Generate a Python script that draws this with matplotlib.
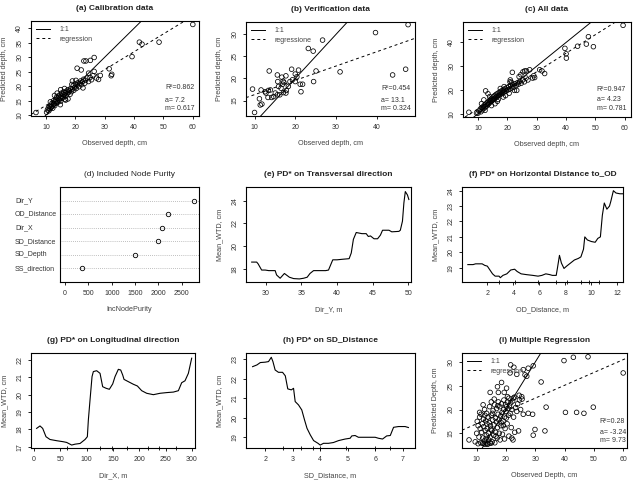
import numpy as np
import matplotlib
matplotlib.use('Agg')
from matplotlib import pyplot as plt

plt.rcParams['font.family'] = ['Liberation Sans', 'DejaVu Sans']

# ---- scatter data (observed, predicted) ----
a_pts = [(10.2, 11.0), (10.5, 11.8), (10.8, 12.5), (11.0, 11.5), (11.2, 12.9), (11.4, 12.2), (11.6, 13.4),
         (11.8, 12.8), (12.0, 13.0), (12.1, 14.2), (12.3, 12.4), (12.5, 13.6), (12.6, 15.0), (12.8, 14.0),
         (13.0, 13.3), (13.1, 14.6), (13.3, 15.5), (13.5, 14.1), (13.6, 16.2), (13.8, 15.0), (14.0, 14.4),
         (14.1, 15.8), (14.3, 16.6), (14.5, 15.2), (14.7, 17.0), (14.8, 16.0), (15.0, 14.8), (15.2, 16.5),
         (15.3, 17.6), (15.5, 15.8), (15.7, 17.2), (15.9, 16.3), (16.0, 18.0), (16.2, 17.0), (16.5, 15.5),
         (16.6, 17.8), (16.8, 16.6), (17.0, 18.3), (17.2, 17.4), (17.5, 18.8), (17.7, 17.9), (18.0, 18.5),
         (18.2, 17.2), (18.4, 19.2), (18.7, 18.1), (19.0, 19.0), (19.3, 20.2), (19.5, 18.6), (19.8, 19.6),
         (20.0, 20.8), (20.3, 19.2), (20.6, 20.3), (20.9, 21.2), (21.2, 19.8), (21.5, 20.9), (21.8, 21.8),
         (22.1, 20.5), (22.4, 21.5), (22.8, 22.4), (23.2, 21.0), (23.5, 22.0), (24.0, 22.8), (24.5, 21.6),
         (25.0, 23.0), (25.5, 22.2), (26.0, 23.6), (13.8, 17.6), (15.0, 18.8), (16.7, 15.2), (17.5, 15.6),
         (60.0, 41.3), (48.5, 35.2), (41.8, 35.2), (42.7, 34.5), (39.3, 30.2), (32.4, 24.1), (31.5, 26.0),
         (26.4, 29.9), (25.1, 28.9), (23.6, 28.7), (22.9, 28.7), (20.6, 26.2), (22.0, 25.6), (24.5, 24.5),
         (26.4, 25.1), (27.2, 22.8), (28.5, 23.7), (6.6, 10.9), (27.9, 22.3), (32.2, 23.6), (19.0, 21.8),
         (11.5, 14.6), (12.9, 16.8), (14.9, 13.6), (16.3, 19.2), (18.8, 20.6), (20.2, 22.0), (22.6, 19.4)]

b_pts = [(47.7, 32.2), (39.7, 30.4), (26.7, 28.7), (23.2, 26.8), (24.4, 26.2), (13.6, 21.7), (19.1, 22.1),
         (20.8, 21.9), (25.1, 21.7), (31.0, 21.5), (47.1, 22.1), (43.9, 20.8), (24.5, 19.3), (9.5, 17.6),
         (11.6, 17.4), (13.4, 17.3), (13.9, 17.4), (15.6, 20.8), (15.7, 19.3), (16.5, 17.8), (17.7, 20.6),
         (17.0, 19.4), (17.2, 19.1), (16.9, 18.7), (20.0, 21.0), (20.0, 19.3), (21.2, 18.7), (21.8, 18.7),
         (21.4, 17.0), (11.2, 15.4), (11.8, 14.2), (11.4, 14.0), (13.3, 15.7), (14.2, 15.7), (14.7, 15.9),
         (15.6, 16.3), (16.2, 16.3), (17.1, 16.8), (17.7, 16.7), (15.9, 18.2), (15.1, 16.7), (12.6, 17.0),
         (12.8, 16.7), (10.0, 12.3), (18.7, 19.3), (18.3, 18.2), (19.3, 19.7), (20.4, 20.4), (16.7, 20.3),
         (17.8, 17.3)]

c_pts = [(9.5, 10.3), (10.0, 10.2), (10.4, 11.2), (10.8, 12.0), (11.0, 10.8), (11.3, 12.6), (11.5, 11.6),
         (11.8, 13.0), (12.0, 12.2), (12.2, 13.6), (12.5, 12.8), (12.7, 14.0), (12.9, 13.2), (13.1, 14.6),
         (13.3, 13.8), (13.5, 15.0), (13.7, 14.2), (13.9, 15.6), (14.1, 14.8), (14.3, 16.0), (14.5, 15.2),
         (14.7, 16.4), (14.9, 15.6), (15.1, 17.0), (15.3, 16.0), (15.5, 17.4), (15.7, 16.4), (15.9, 17.8),
         (16.1, 16.8), (16.3, 18.2), (16.5, 17.2), (16.8, 18.6), (17.0, 17.6), (17.3, 19.0), (17.5, 18.0),
         (17.8, 19.4), (18.0, 18.4), (18.3, 19.8), (18.5, 18.8), (18.8, 20.2), (19.0, 19.2), (19.3, 20.6),
         (19.6, 19.6), (19.9, 21.0), (20.2, 20.0), (20.5, 21.4), (20.8, 20.4), (21.1, 21.8), (21.5, 20.8),
         (21.8, 22.2), (22.2, 21.2), (22.6, 22.6), (23.0, 21.8), (23.4, 23.0), (23.8, 22.4), (24.2, 23.6),
         (24.7, 22.8), (25.2, 24.2), (25.8, 23.4), (26.4, 25.0), (27.0, 24.2), (13.4, 18.4), (12.0, 15.8),
         (11.2, 14.2), (14.6, 13.4), (16.6, 15.2), (18.6, 17.0), (20.6, 18.6), (22.4, 19.8), (24.0, 25.6),
         (21.0, 24.2), (25.3, 27.6), (26.5, 28.0), (28.6, 25.0), (29.3, 25.2), (31.0, 28.5), (31.8, 28.0),
         (32.7, 26.9), (27.6, 28.5), (25.9, 28.0), (21.7, 27.4), (20.9, 23.4), (12.6, 19.6), (6.9, 10.6),
         (59.4, 47.2), (47.6, 42.4), (46.9, 39.3), (49.3, 38.2), (43.9, 38.4), (39.6, 37.5), (40.0, 35.2),
         (40.1, 33.4), (29.0, 26.0), (12.4, 11.4), (14.0, 17.2), (15.8, 14.2), (17.6, 20.6), (19.4, 17.6),
         (21.4, 23.2), (23.2, 19.8), (24.6, 26.4), (16.9, 16.0), (18.9, 21.4)]

i_pts = [(9.5, 13.2), (10.0, 15.0), (10.2, 17.5), (10.5, 12.8), (10.8, 14.2), (11.0, 18.4), (11.2, 16.0),
         (11.4, 13.0), (11.5, 19.0), (11.7, 15.2), (11.9, 17.0), (12.0, 12.9), (12.1, 14.0), (12.3, 18.0),
         (12.4, 16.4), (12.6, 13.4), (12.7, 20.0), (12.9, 15.6), (13.0, 12.7), (13.1, 17.6), (13.3, 14.6),
         (13.4, 19.2), (13.6, 16.0), (13.7, 12.8), (13.9, 18.4), (14.0, 15.0), (14.1, 13.6), (14.3, 17.2),
         (14.4, 20.6), (14.6, 14.2), (14.7, 16.6), (14.9, 12.9), (15.0, 18.8), (15.2, 15.6), (15.3, 13.2),
         (15.5, 17.8), (15.6, 19.8), (15.8, 14.6), (15.9, 16.8), (16.1, 21.0), (16.2, 13.0), (16.4, 18.2),
         (16.5, 15.2), (16.7, 17.4), (16.8, 20.2), (17.0, 14.0), (17.1, 16.2), (17.3, 19.0), (17.4, 21.6),
         (17.6, 17.8), (17.7, 15.0), (17.9, 20.6), (18.0, 13.6), (18.2, 18.6), (18.3, 16.6), (18.5, 21.2),
         (18.7, 19.4), (18.8, 14.8), (19.0, 17.6), (19.2, 20.0), (19.3, 22.0), (19.5, 18.4), (19.7, 16.0),
         (19.8, 21.0), (20.0, 19.6), (20.2, 20.6), (20.4, 17.0), (20.5, 21.6), (20.7, 20.2), (20.9, 18.8),
         (21.0, 22.4), (21.2, 20.8), (21.4, 19.2), (21.6, 21.4), (21.8, 16.2), (22.0, 20.0), (22.3, 21.8),
         (22.6, 18.4), (22.9, 22.6), (23.3, 20.4), (23.7, 19.6), (24.0, 21.2), (24.5, 23.0), (25.0, 20.0),
         (25.5, 22.2), (13.8, 12.7), (14.5, 13.0), (12.5, 12.8), (19.5, 13.8), (21.0, 14.4), (22.0, 14.0),
         (22.4, 13.6), (23.0, 15.2), (24.3, 15.5), (29.3, 14.6), (29.9, 15.8), (33.3, 15.5), (7.4, 13.6),
         (25.9, 19.0), (27.6, 19.2), (29.1, 19.0), (33.7, 20.5), (40.3, 19.4), (44.1, 19.4), (46.6, 19.2),
         (49.8, 20.5), (14.6, 23.6), (17.1, 24.8), (18.5, 25.7), (17.4, 23.6), (19.4, 23.6), (20.2, 24.5),
         (32.0, 25.8), (20.5, 22.7), (22.5, 22.4), (24.6, 22.0), (25.4, 22.7), (21.4, 27.7), (23.7, 27.4),
         (26.5, 27.3), (27.1, 27.0), (21.6, 29.4), (22.7, 28.9), (25.9, 28.4), (27.6, 28.7), (29.3, 29.2),
         (39.8, 30.3), (43.0, 31.0), (48.0, 31.1), (60.0, 27.7), (11.0, 19.4), (12.2, 21.0), (10.5, 16.6),
         (16.0, 22.2), (15.0, 21.6), (13.2, 13.9), (14.8, 15.9), (16.6, 14.4), (18.4, 17.2), (20.1, 18.2),
         (13.5, 17.0), (15.4, 19.2), (17.2, 20.8), (19.1, 16.6), (12.8, 18.8)]

# regression lines (intercept, slope)
a_fit = (7.2, 0.617)
b_fit = (13.1, 0.324)
c_fit = (4.23, 0.781)
i_fit = (14.3, 0.27)

a_stats = ['R²=0.862', 'a= 7.2', 'm= 0.617']
b_stats = ['R²=0.454', 'a= 13.1', 'm= 0.324']
c_stats = ['R²=0.947', 'a= 4.23', 'm= 0.781']
i_stats = ['R²=0.28', 'a= -3.24', 'm= 9.73']

# ---- variable importance ----
d_vars = ['SS_direction', 'SD_Depth', 'SD_Distance', 'Dir_X', 'OD_Distance', 'Dir_Y']
d_vals = [359, 1500, 1998, 2078, 2208, 2762]

# ---- partial dependence curves ----
e_x = [28.0, 28.7, 28.9, 29.4, 29.9, 30.4, 31.3, 31.5, 32.0, 32.6, 33.3, 33.9, 34.7, 35.3, 35.8, 36.2, 36.7,
       38.4, 38.8, 39.4, 40.0, 40.8, 41.7, 42.0, 42.3, 42.7, 43.5, 44.1, 44.4, 44.7, 45.2, 45.7, 46.1, 46.4,
       47.3, 47.7, 48.7, 48.9, 49.2, 49.4, 49.6, 49.9, 50.1]
e_y = [18.6, 18.6, 18.45, 17.9, 17.9, 17.85, 17.85, 17.47, 17.18, 17.6, 17.27, 17.15, 17.12, 17.18, 17.27,
       17.6, 17.85, 17.85, 17.9, 18.8, 18.8, 18.85, 18.9, 19.4, 20.6, 21.2, 21.1, 21.1, 20.85, 20.9, 20.65,
       20.65, 20.97, 21.4, 21.4, 21.26, 21.3, 21.4, 22.2, 23.8, 24.8, 24.5, 24.1]

f_x = [0.5, 0.9, 1.1, 1.6, 1.8, 2.0, 2.2, 2.4, 2.6, 2.9, 3.0, 3.2, 3.5, 3.8, 4.1, 4.3, 4.6, 5.0, 5.5, 5.9,
       6.2, 6.5, 6.8, 7.0, 7.3, 7.4, 7.55, 7.7, 7.9, 8.1, 8.4, 8.7, 9.0, 9.2, 9.4, 9.5, 9.7, 10.0, 10.3,
       10.5, 10.7, 10.85, 11.0, 11.2, 11.4, 11.5, 11.7, 11.9, 12.2, 12.6]
f_y = [19.2, 19.2, 19.25, 19.25, 19.15, 19.1, 18.85, 18.6, 18.45, 18.45, 18.35, 18.5, 18.6, 18.85, 18.9,
       18.75, 18.6, 18.55, 18.5, 18.45, 18.5, 18.6, 18.55, 18.5, 18.5, 19.0, 19.8, 19.3, 18.95, 19.1, 19.3,
       19.5, 19.6, 19.7, 20.2, 21.0, 20.8, 20.7, 20.65, 20.9, 21.0, 22.4, 23.2, 22.8, 23.0, 23.3, 24.0,
       23.85, 23.8, 23.8]
f_rug = [2.9, 4.1, 5.9, 7.3, 8.1, 9.2, 9.8, 10.6]

g_x = [5, 11.4, 16.5, 22.8, 30.4, 43.1, 55.8, 62.1, 71.6, 77.9, 87.5, 97, 101.4, 103.3, 106.5, 110.3, 112.8,
       119.1, 125.5, 130.5, 136.9, 143.2, 149.6, 154, 160.3, 164.8, 168.6, 171.1, 179.3, 188.8, 196.5,
       204.7, 214.2, 226.9, 239.5, 252.2, 264.9, 274.4, 280.7, 287, 293.4, 299.7]
g_y = [18.06, 18.2, 18.06, 17.58, 17.42, 17.35, 17.29, 17.25, 17.1, 17.15, 17.19, 17.42, 17.58, 18.54, 19.7,
       21.04, 21.33, 21.38, 21.23, 20.46, 20.37, 20.31, 20.62, 21.04, 21.46, 21.42, 21.13, 20.88, 20.75,
       20.6, 20.5, 20.23, 20.08, 20.0, 20.08, 20.12, 20.15, 20.23, 20.69, 20.8, 21.23, 22.1]
g_rug = [62, 125, 148, 176, 217, 238, 270]

h_x = [1.54, 1.70, 1.82, 2.0, 2.12, 2.22, 2.28, 2.36, 2.48, 2.63, 2.73, 2.82, 2.95, 3.03, 3.09, 3.21, 3.33,
       3.43, 3.52, 3.64, 3.76, 3.92, 4.0, 4.12, 4.3, 4.48, 4.67, 4.91, 5.09, 5.15, 5.27, 5.39, 5.76, 6.0,
       6.12, 6.27, 6.42, 6.55, 6.67, 6.85, 7.09, 7.21]
h_y = [22.62, 22.71, 22.83, 22.85, 22.88, 23.1, 22.88, 22.45, 22.33, 22.33, 22.15, 21.48, 21.43, 21.51,
       20.83, 20.66, 20.4, 19.89, 19.46, 19.12, 18.83, 18.69, 18.6, 18.69, 18.69, 18.73, 18.83, 18.91,
       18.95, 19.07, 19.09, 19.0, 19.0, 19.0, 18.95, 18.91, 19.07, 19.09, 19.51, 19.55, 19.55, 19.5]
h_rug = [2.63, 3.3, 3.75, 4.0, 4.95, 6.0, 6.55]

W, H = 636, 480
fig = plt.figure(figsize=(6.36, 4.8), dpi=100)
TXT = '#333333'
FS = 5.0


def px_axes(l, t, r, b):
    return fig.add_axes([l / W, 1 - b / H, (r - l) / W, (b - t) / H])


def style(ax, title, xlab, ylab, xt, yt, xlim, ylim, bold=True):
    ax.set_xlim(*xlim)
    ax.set_ylim(*ylim)
    ax.set_xticks(xt)
    if yt is not None:
        ax.set_yticks(yt)
        plt.setp(ax.get_yticklabels(), rotation=90, va='center')
    ax.tick_params(direction='out', length=2.5, width=0.6, pad=3, labelsize=FS, colors='k', labelcolor=TXT)
    for s in ax.spines.values():
        s.set_linewidth(0.8)
    ax.set_title(title, fontsize=6, fontweight='bold' if bold else 'normal', pad=8, color='#222222')
    ax.set_xlabel(xlab, fontsize=FS + 0.2, labelpad=7, color='#444444')
    if ylab:
        ax.set_ylabel(ylab, fontsize=FS + 0.2, labelpad=6, color='#444444')


def scatter_panel(ax, pts, fit, stats, leg2, sx, sy):
    obs, pred = np.array(pts).T
    ax.scatter(obs, pred, s=11, facecolors='none', edgecolors='k', linewidths=0.55, zorder=3)
    ax.axline((0, 0), slope=1, color='k', lw=0.7, label='1:1')
    ax.axline((0, fit[0]), slope=fit[1], color='k', lw=0.7, ls=(0, (3, 3)), label=leg2)
    ax.legend(loc='upper left', frameon=False, fontsize=FS, handlelength=2.0, handletextpad=1.3,
              labelspacing=0.35, borderaxespad=0.35, labelcolor='#444444')
    for txt, yy in zip(stats, sy):
        ax.text(sx, yy, txt, transform=ax.transAxes, fontsize=FS, color=TXT, ha='left', va='center')


# (a)
ax = px_axes(31, 21, 199, 116)
scatter_panel(ax, a_pts, a_fit, a_stats, 'regression', 0.80, [0.295, 0.168, 0.08])
style(ax, '(a) Calibration data', 'Observed depth, cm', 'Predicted depth, cm',
      range(10, 61, 10), range(10, 41, 5), (4.9, 62.1), (9.7, 42.5))

# (b)
ax = px_axes(246, 22, 415, 116)
scatter_panel(ax, b_pts, b_fit, b_stats, 'regressione', 0.80, [0.295, 0.17, 0.08])
style(ax, '(b) Verification data', 'Observed depth, cm', 'Predicted depth, cm',
      range(10, 41, 10), range(15, 31, 5), (7.9, 49.4), (11.5, 32.8))

# (c)
ax = px_axes(463, 22, 631, 117)
scatter_panel(ax, c_pts, c_fit, c_stats, 'regression', 0.795, [0.29, 0.18, 0.09])
style(ax, '(c) All data', 'Observed depth, cm', 'Predicted depth, cm',
      range(10, 61, 10), range(10, 41, 10), (4.9, 62.1), (8.6, 48.6))

# (d) variable importance dot chart
ax = px_axes(60, 187, 199, 282)
pos = np.arange(1, len(d_vars) + 1)
ax.hlines(pos, -110, 2872, colors='#aaaaaa', linestyles=(0, (1, 1.5)), linewidth=0.6)
ax.plot(d_vals, pos, 'o', mfc='none', mec='k', mew=0.6, ms=3.2)
style(ax, '(d) Included Node Purity', 'IncNodePurity', None,
      range(0, 2501, 500), None, (-110, 2872), (0, 7), bold=False)
ax.set_yticks([])
for name, p in zip(d_vars, pos):
    ax.text(-0.324, p, name, transform=ax.get_yaxis_transform(), fontsize=FS, color=TXT,
            ha='left', va='center')


def pd_panel(box, x, y, rug, title, xlab, xt, yt, xlim, ylim):
    ax = px_axes(*box)
    ax.plot(x, y, color='k', lw=0.8)
    if rug:
        ax.plot(rug, [ylim[0]] * len(rug), ls='none', marker='|', color='k', ms=3, mew=0.6,
                clip_on=False)
    style(ax, title, xlab, 'Mean_WTD, cm', xt, yt, xlim, ylim)
    return ax


pd_panel((246, 187, 411, 282), e_x, e_y, None, '(e) PD* on Transversal direction', 'Dir_Y, m',
         range(30, 51, 5), range(18, 25, 2), (27.2, 50.4), (16.85, 25.2))
pd_panel((462, 187, 623, 282), f_x, f_y, f_rug, '(f) PD* on Horizontal Distance to_OD', 'OD_Distance, m',
         range(2, 13, 2), range(19, 25), (0.05, 12.44), (18.07, 24.24))
pd_panel((31, 353, 195, 448), g_x, g_y, g_rug, '(g) PD* on Longitudinal direction', 'Dir_X, m',
         range(0, 301, 50), range(17, 23), (-5.7, 306), (16.93, 22.4))
pd_panel((246, 353, 415, 448), h_x, h_y, h_rug, '(h) PD* on SD_Distance', 'SD_Distance, m',
         range(2, 8), range(19, 24), (1.3, 7.45), (18.45, 23.32))

# (i)
ax = px_axes(462, 353, 627, 448)
scatter_panel(ax, i_pts, i_fit, i_stats, 'regression', 0.835, [0.277, 0.16, 0.077])
style(ax, '(i) Multiple Regression', 'Observed Depth, cm', 'Predicted Depth, cm',
      range(10, 61, 10), range(15, 31, 5), (5.0, 61.3), (11.9, 31.9))

plt.savefig('out.png', dpi=100)
